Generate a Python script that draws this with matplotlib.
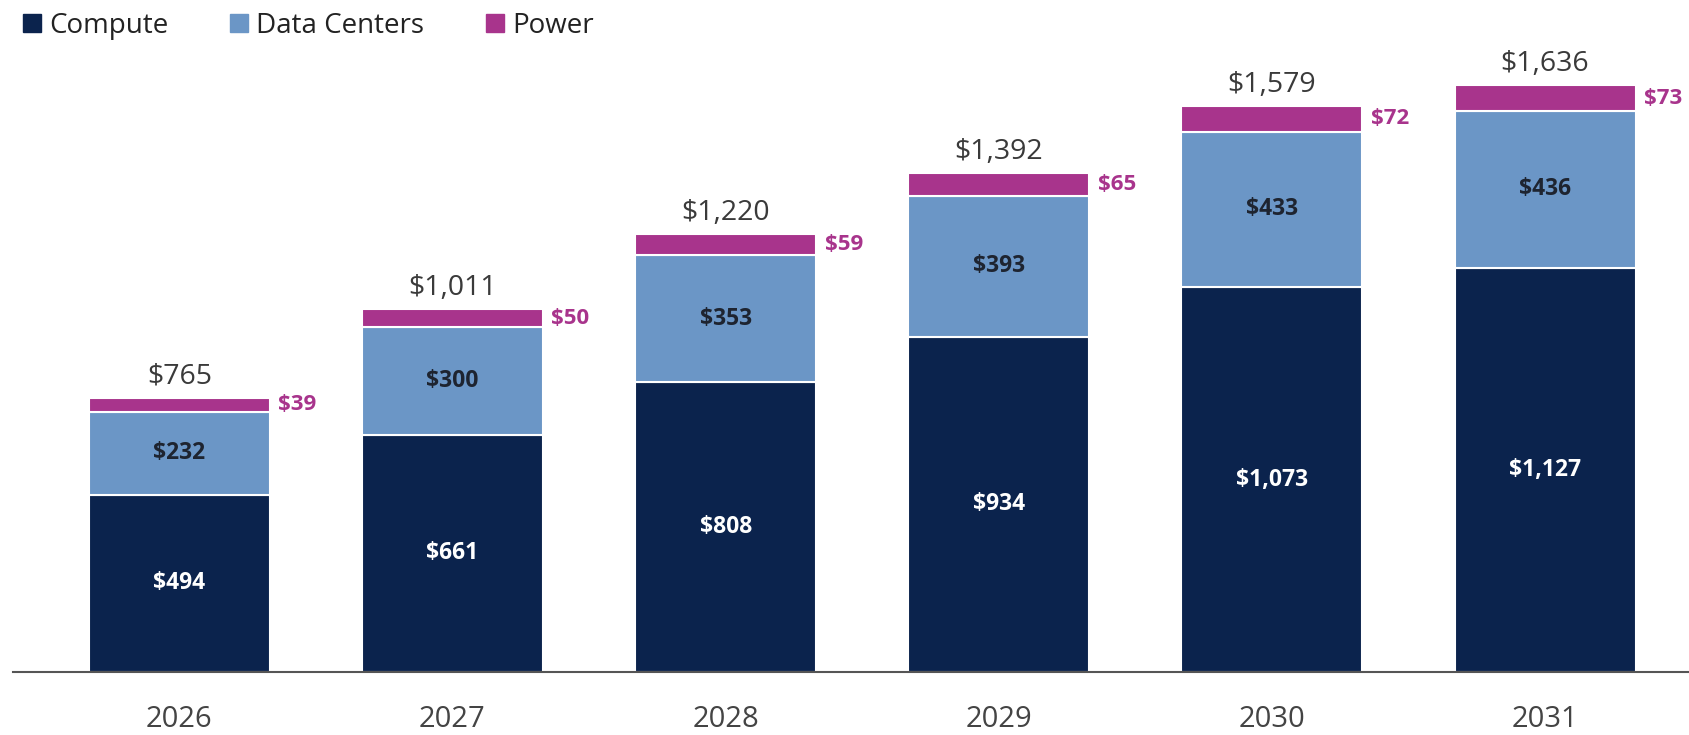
import matplotlib
matplotlib.use("Agg")
import matplotlib.pyplot as plt
from matplotlib.patches import Patch

years = ["2026", "2027", "2028", "2029", "2030", "2031"]
compute = [494, 661, 808, 934, 1073, 1127]
data_centers = [232, 300, 353, 393, 433, 436]
power = [39, 50, 59, 65, 72, 73]
totals = [765, 1011, 1220, 1392, 1579, 1636]

c_compute = "#0B234D"
c_dc = "#6B96C6"
c_power = "#A8348C"

plt.rcParams['font.family'] = ['Open Sans', 'DejaVu Sans']

W, H = 1689, 735
fig = plt.figure(figsize=(W / 100, H / 100), dpi=100)
ax = fig.add_axes([13 / W, (H - 672) / H, (W - 13) / W, (672 - 30) / H])

x = list(range(len(years)))
bw = 0.663
ax.bar(x, compute, width=bw, color=c_compute, edgecolor="white", linewidth=1.5)
ax.bar(x, data_centers, width=bw, bottom=compute, color=c_dc, edgecolor="white", linewidth=1.5)
bot2 = [a + b for a, b in zip(compute, data_centers)]
ax.bar(x, power, width=bw, bottom=bot2, color=c_power, edgecolor="white", linewidth=1.5)

for i in x:
    ax.text(i, compute[i] / 2, f"${compute[i]:,}", ha="center", va="center",
            color="white", fontsize=16.5, fontweight="bold")
    ax.text(i, compute[i] + data_centers[i] / 2, f"${data_centers[i]:,}", ha="center",
            va="center", color="#1E2430", fontsize=16.5, fontweight="bold")
    ax.annotate(f"${power[i]:,}", xy=(i + bw / 2, bot2[i] + power[i] / 2),
                xytext=(6, 0), textcoords="offset points", ha="left", va="center",
                color=c_power, fontsize=16, fontweight="bold")
    ax.annotate(f"${totals[i]:,}", xy=(i, bot2[i] + power[i]), xytext=(0, 5),
                textcoords="offset points", ha="center", va="bottom",
                color="#3A3A3A", fontsize=20.5, fontweight="normal")

ax.set_xlim(-0.609, 5.527)
ax.set_ylim(0, 642 / 0.3588)
ax.set_xticks(x)
ax.set_xticklabels(years, fontsize=21, color="#444444")
ax.tick_params(axis="x", length=0, pad=24)
ax.set_yticks([])
for s in ["top", "right", "left"]:
    ax.spines[s].set_visible(False)
ax.spines["bottom"].set_color("#555555")
ax.spines["bottom"].set_linewidth(1.5)

handles = [Patch(color=c_compute, label="Compute"),
           Patch(color=c_dc, label="Data Centers"),
           Patch(color=c_power, label="Power")]
fig.legend(handles=handles, loc="upper left", bbox_to_anchor=(-0.001, 1.018), ncol=3,
           frameon=False, fontsize=20, handlelength=0.65, handleheight=0.65,
           handletextpad=0.3, columnspacing=2.2, labelcolor="#222222")

fig.savefig("out.png", dpi=100, facecolor="white")
